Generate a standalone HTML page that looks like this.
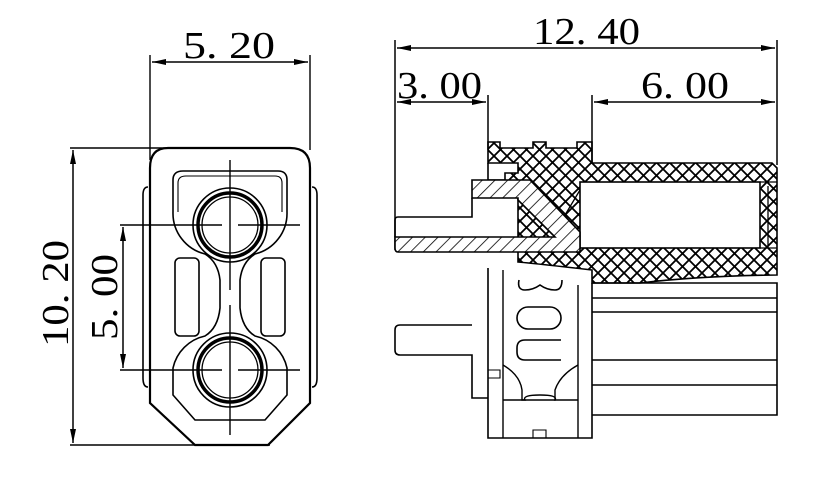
<!DOCTYPE html>
<html><head><meta charset="utf-8"><style>
html,body{margin:0;padding:0;background:#fff;}
svg{display:block}
text{font-family:"Liberation Serif",serif;font-size:38px;fill:#000}
</style></head><body>
<svg width="820" height="480" viewBox="0 0 820 480" xmlns="http://www.w3.org/2000/svg">
<defs>
<pattern id="xh" width="13" height="13" patternUnits="userSpaceOnUse">
<path d="M0 0L13 13M13 0L0 13" stroke="#000" stroke-width="1.8"/>
</pattern>
<pattern id="dh" width="9" height="9" patternUnits="userSpaceOnUse" patternTransform="rotate(45)">
<path d="M0 0V9" stroke="#000" stroke-width="1.6"/>
</pattern>
<marker id="a" viewBox="0 0 14 6" refX="14" refY="3" markerWidth="14" markerHeight="6" orient="auto-start-reverse" markerUnits="userSpaceOnUse">
<path d="M0 0L14 3L0 6Z" fill="#000"/>
</marker>
</defs>
<g fill="none" stroke="#000" stroke-width="2.2">
<!-- LEFT VIEW -->
<path d="M168 148H290Q310 148 310 168V403L268 445H195L150 403V168Q150 148 168 148Z"/>
<path d="M148 187Q143 187 143 195V378Q143 387 148 387M312 187Q317 187 317 195V378Q317 387 312 387" stroke-width="1.6"/>
<path d="M183 171H278Q287 171 287 180V212A42 42 0 0 1 255 254Q242 262 240 280V308Q242 328 255 336A42 42 0 0 1 287 368V395L265 420H195L173 395V368A42 42 0 0 1 205 336Q218 328 220 308V280Q218 262 205 254A42 42 0 0 1 173 212V180Q173 171 183 171Z" stroke-width="1.6"/>
<path d="M186 176H275Q282 176 282 183V212M178 212V183Q178 176 186 176" stroke-width="1.1"/>
<rect x="175" y="258" width="24" height="78" rx="5" stroke-width="1.6"/>
<rect x="261" y="258" width="24" height="78" rx="5" stroke-width="1.6"/>
<circle cx="230" cy="225" r="37" stroke-width="1.6"/>
<circle cx="230" cy="225" r="32" stroke-width="3.5"/>
<circle cx="230" cy="225" r="28" stroke-width="1.3"/>
<circle cx="230" cy="370" r="37" stroke-width="1.6"/>
<circle cx="230" cy="370" r="32" stroke-width="3.5"/>
<circle cx="230" cy="370" r="28" stroke-width="1.3"/>
<g stroke-width="1.4">
<path d="M230 160V290M230 305V435"/>
<path d="M120 225H222M238 225H300M120 370H222M238 370H300"/>
<path d="M70 148H168M70 445H270"/>
<path d="M150 55V160M310 55V150"/>
</g>
<g stroke-width="1.5">
<path d="M73 150V443" marker-start="url(#a)" marker-end="url(#a)"/>
<path d="M123 227V368" marker-start="url(#a)" marker-end="url(#a)"/>
<path d="M152 62H308" marker-start="url(#a)" marker-end="url(#a)"/>
</g>

<!-- RIGHT VIEW dims -->
<g stroke-width="1.5">
<path d="M395 40V250M777 40V165M488 95V150M592 95V163"/>
<path d="M397 48H775" marker-start="url(#a)" marker-end="url(#a)"/>
<path d="M397 102H486" marker-start="url(#a)" marker-end="url(#a)"/>
<path d="M594 102H775" marker-start="url(#a)" marker-end="url(#a)"/>
</g>

<!-- hatched housing -->
<path d="M488 142H500V148H533V142H546V148H577V142H592V163H772L777 168V275Q700 276 640 283H592V270Q540 264 518 262V182H505V173H518V163H488Z" fill="url(#xh)" stroke-width="1.6"/>
<path d="M488 163V180H505" stroke-width="1.6"/>
<rect x="580" y="182" width="180" height="66" fill="#fff" stroke-width="1.6"/>
<path d="M760 182H777M760 248H777M768 186V248" stroke-width="1.3"/>
<path d="M580 190L565 215L580 240" stroke-width="1.3"/>
<!-- pin -->
<path d="M472 180H530L580 232V252H398Q395 252 395 248V237H555L518 200V198H472Z" fill="#fff" stroke="none"/>
<path d="M472 180H530L580 232V252H398Q395 252 395 248V237H555L518 200V198H472Z" fill="url(#dh)" stroke-width="1.6"/>
<path d="M395 237V220Q395 217 398 217H472V198" stroke-width="1.6"/>

<!-- lower body -->
<path d="M488 268V438H592V283M592 283H777V415H592" stroke-width="1.6"/>
<path d="M592 298H777M592 312H777M592 360H777M592 385H777" stroke-width="1.4"/>
<path d="M503 270V438M578 285V438" stroke-width="1.4"/>
<path d="M503 365Q520 375 522 390V400H555V390Q560 375 578 365" stroke-width="1.4"/>
<path d="M503 400H525Q522 395 540 395Q558 395 555 400H578" stroke-width="1.4"/>
<path d="M533 430H546V438H533Z" stroke-width="1.1"/>
<path d="M488 370H500V378H488" stroke-width="1.1"/>
<rect x="517" y="307" width="44" height="22" rx="11" stroke-width="1.6"/>
<path d="M561 340H525Q517 340 517 348V352Q517 360 525 360H561" stroke-width="1.6"/>
<path d="M519 280Q517 290 525 290Q533 290 540 285Q547 290 555 290Q562 290 562 280" stroke-width="1.6"/>
<!-- lower pin -->
<path d="M472 325H400Q395 325 395 330V350Q395 355 400 355H472V398H488" stroke-width="1.6"/>
</g>
<text x="183" y="58" textLength="92" lengthAdjust="spacingAndGlyphs">5. 20</text>
<text x="533" y="44" textLength="107" lengthAdjust="spacingAndGlyphs">12. 40</text>
<text x="397" y="98" textLength="85" lengthAdjust="spacingAndGlyphs">3. 00</text>
<text x="641" y="98" textLength="88" lengthAdjust="spacingAndGlyphs">6. 00</text>
<text transform="translate(68 347) rotate(-90)" textLength="107" lengthAdjust="spacingAndGlyphs">10. 20</text>
<text transform="translate(117 340) rotate(-90)" textLength="86" lengthAdjust="spacingAndGlyphs">5. 00</text>
</svg>
</body></html>
